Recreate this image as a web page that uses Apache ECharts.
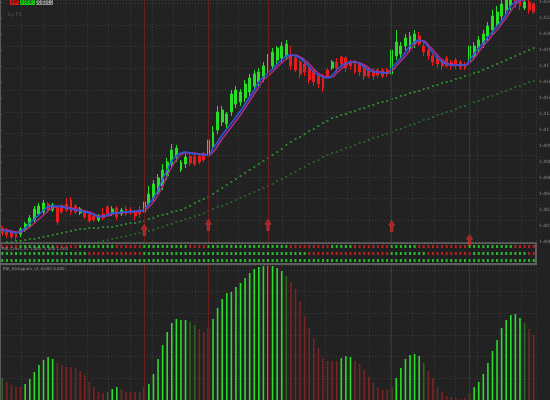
<!DOCTYPE html>
<html>
<head>
<meta charset="utf-8">
<script src="https://cdn.jsdelivr.net/npm/echarts@6/dist/echarts.min.js"></script>
<style>
html, body { margin: 0; padding: 0; background: #222; }
#chart { width: 550px; height: 400px; }
</style>
</head>
<body>
<div id="chart"></div>
<script>
// prices are points above 1.4000 (1 pt = 0.0001)
const opens = [14,12,10,9,8,12,16,22,28,30,38,32,34,36,38,42,36,29,30,28,26,22,28,35,28,34,28,33,32,30,32,30,38,44,50,56,66,78,86,72,78,86,85,86,88,86,96,112,120,118,130,138,140,144,150,156,160,164,170,176,182,184,186,186,184,180,178,174,172,166,165,172,174,180,185,184,180,180,178,176,172,170,172,172,172,168,186,188,196,194,198,206,196,192,186,184,182,184,180,182,180,178,180,186,194,198,206,212,218,226,232,236,246,244,234,240,238]
const closes = [9,7,5,5,13,18,24,33,36,39,32,37,20,30,32,30,30,33,25,21,22,26,24,28,33,25,32,28,29,26,28,40,48,58,64,72,80,92,94,80,85,79,78,80,82,102,110,130,132,128,148,152,150,158,164,168,170,176,184,190,194,196,198,176,172,168,170,162,160,158,154,166,180,174,178,174,176,170,170,166,166,166,167,166,168,192,200,196,204,206,208,198,190,186,180,178,176,176,176,176,175,174,196,196,202,208,216,226,230,238,244,246,238,236,240,232,230]
const lows = [6,4,3,2,5,10,14,20,26,27,29,30,17,28,30,27,28,27,23,19,20,20,22,26,26,22,26,26,27,22,24,28,36,40,48,52,62,74,80,70,74,76,76,78,80,84,92,108,116,114,126,134,136,140,146,152,156,160,168,172,178,180,182,172,170,164,166,158,156,154,150,164,172,170,176,170,172,168,166,162,164,162,164,164,165,166,182,184,192,190,194,196,186,182,176,174,172,174,172,173,172,172,176,182,190,194,200,208,214,222,228,232,234,232,232,228,228]
const highs = [16,14,12,11,15,20,27,36,39,42,40,39,36,38,44,45,38,35,32,30,28,28,34,37,36,36,34,36,35,32,36,44,56,62,68,78,84,98,97,82,88,88,87,88,90,106,116,136,136,130,152,156,153,162,168,172,174,180,188,194,196,200,202,196,186,182,180,176,174,168,168,174,182,184,186,186,182,182,180,178,174,174,174,174,174,212,212,200,208,210,212,210,200,194,188,186,184,186,182,184,182,180,200,200,206,212,220,232,236,244,250,252,250,248,244,242,240]

const maBlue = [12,11,10,9,11,14,19,23,27,32,35,36,36,35,34,33,32,31,30,29,27,25,26,27,29,29,30,30,30,31,31,33,38,44,52,63,72,81,86,89,90,89,88,88,87,87,94,100,107,113,119,125,131,138,145,152,160,165,169,173,178,182,186,187,186,184,180,175,170,167,165,164,167,172,176,179,180,180,178,175,172,170,170,169,169,174,179,184,190,196,200,202,200,195,189,184,180,178,177,177,177,177,182,188,194,199,205,210,216,221,228,236,240,242,243,244,244]
const maPink = [12,12,11,10,10,12,15,19,23,27,31,34,35,36,35,34,33,32,31,30,28,26,26,26,28,29,29,30,30,30,31,32,35,40,47,56,66,75,82,87,89,89,89,88,88,87,90,96,103,109,115,121,127,134,141,148,155,162,166,170,175,179,183,186,187,185,182,178,173,169,166,165,165,169,173,177,179,180,179,177,174,171,170,170,169,171,176,181,186,192,197,201,201,197,192,187,182,179,178,177,177,177,179,184,190,196,201,207,212,218,224,231,237,241,242,243,244]
const slowA = [null,0,0,1,1,2,3,3,4,5,6,7,8,9,10,11,12,13,13,14,14,14,15,15,15,16,17,18,19,19,20,21,23,24,26,27,28,30,31,32,34,36,39,41,43,45,48,51,54,57,60,63,66,69,72,75,78,81,84,87,90,93,97,100,103,105,108,111,113,116,119,121,124,125,127,128,130,131,133,134,136,137,139,140,141,143,144,146,147,149,150,151,153,154,156,157,159,160,161,163,164,166,167,169,170,172,174,176,178,180,182,184,186,188,190,192,194]
const slowB = [null,null,null,null,null,null,null,null,null,null,null,null,null,null,null,null,null,null,null,null,null,0,1,2,3,4,5,6,7,8,9,10,11,12,14,15,17,18,20,21,23,24,26,27,29,31,33,35,36,38,40,42,44,46,48,50,52,54,56,58,61,63,65,68,70,73,75,78,80,82,85,87,89,90,92,94,95,97,99,100,102,104,105,107,108,110,112,113,115,117,118,120,122,123,125,127,128,130,131,133,135,136,138,140,141,143,145,146,148,150,151,153,155,156,158,160,161]

// buy arrows: bar index and level
const arrowBars = [31, 45, 58, 85, 102]
const arrowLevels = [12, 17, 17, 16, 2]

// three-row signal strip, run lengths of red / green
const stripRuns = [
  [['R',4],['G',8],['R',5],['G',8],['R',6],['G',10],['R',4],['G',18],['R',9],['G',5],['R',8],['G',6],['R',11],['G',10],['R',5]],
  [['G',19],['R',12],['G',36],['R',18],['G',8],['R',10],['G',12],['R',2]],
  [['G',117]],
]

// histogram heights and colour codes (G rising, g fading, r falling, o turn)
const hist = [22,18,15,13,13,16,21,28,35,40,43,41,37,35,33,33,32,29,25,18,13,8,7,8,11,13,11,8,8,8,8,13,16,26,41,55,68,77,81,80,80,78,75,71,68,72,81,92,101,107,108,113,117,122,127,131,133,134,134,134,132,129,124,118,111,99,84,72,62,52,42,39,39,39,42,44,43,39,36,30,23,17,13,10,10,13,22,32,41,45,46,44,37,29,22,13,8,4,3,2,1,2,7,13,18,26,37,49,60,72,80,85,86,82,77,71,65]
const histRuns = [['g',1],['r',4],['G',7],['r',11],['g',1],['G',2],['r',5],['o',1],['G',9],['g',2],['r',2],['o',1],['G',16],['g',1],['r',11],['G',3],['r',8],['o',1],['G',6],['g',1],['r',9],['o',1],['G',11],['g',1],['r',2]]

const bars = hist.map((_, i) => String(i))
const HIST_COLORS = { G: '#2cdc2c', g: '#2f6424', r: '#7a2424', o: '#66661e' }
const DOT_COLORS = { G: '#2ee02e', R: '#e02222' }
const GRID_LINE = { show: true, lineStyle: { color: '#3a3a3a', type: [1, 2], width: 1 } }
const HIDDEN = { axisLine: { show: false }, axisTick: { show: false }, axisLabel: { show: false } }

function expand(runs) {
  const out = []
  for (const [code, n] of runs) for (let k = 0; k < n; k++) out.push(code)
  return out
}

const histColors = expand(histRuns)
const stripData = []
stripRuns.forEach((runs, row) => {
  expand(runs).forEach((code, i) => {
    stripData.push({ value: [i, 'r' + row], itemStyle: { color: DOT_COLORS[code] } })
  })
})

function signalLines() {
  return {
    symbol: 'none',
    silent: true,
    label: { show: false },
    lineStyle: { color: '#6a1e1e', width: 1, type: 'solid', opacity: 1 },
    data: arrowBars.map((i) => ({ xAxis: bars[i] })),
  }
}

const chart = echarts.init(document.getElementById('chart'))
chart.setOption({
  backgroundColor: '#222222',
  animation: false,
  grid: [
    { left: 0, width: 536, top: 0, height: 242, outerBoundsMode: 'none' },
    { left: 0, width: 536, top: 243, height: 21, outerBoundsMode: 'none', show: true, borderColor: '#5e5e5e', borderWidth: 2, backgroundColor: '#1f1f1f' },
    { left: 0, width: 536, top: 265, height: 135, outerBoundsMode: 'none' },
  ],
  xAxis: [
    { type: 'category', gridIndex: 0, data: bars, ...HIDDEN },
    { type: 'value', gridIndex: 0, min: 0, max: 536, interval: 21.7, ...HIDDEN, splitLine: GRID_LINE },
    { type: 'category', gridIndex: 1, data: bars, ...HIDDEN },
    { type: 'category', gridIndex: 2, data: bars, ...HIDDEN },
    { type: 'value', gridIndex: 2, min: 0, max: 536, interval: 21.7, ...HIDDEN, splitLine: GRID_LINE },
  ],
  yAxis: [
    {
      type: 'value', gridIndex: 0, position: 'right', min: 0, max: 242, interval: 16,
      axisLine: { show: true, lineStyle: { color: '#5a5a5a' } },
      axisTick: { show: true, length: 2, lineStyle: { color: '#5a5a5a' } },
      axisLabel: { margin: 3, fontSize: 4.5, color: '#8c8c8c', fontFamily: 'DejaVu Sans', formatter: (v) => (1.4 + v / 10000).toFixed(4) },
      splitLine: { show: false },
    },
    { type: 'value', gridIndex: 0, min: 0, max: 242, interval: 21.7, ...HIDDEN, splitLine: GRID_LINE },
    { type: 'category', gridIndex: 1, data: ['r0', 'r1', 'r2'], inverse: true, ...HIDDEN },
    {
      type: 'value', gridIndex: 2, position: 'right', min: 0, max: 135, interval: 21.7,
      axisLine: { show: true, lineStyle: { color: '#5a5a5a' } },
      axisTick: { show: false }, axisLabel: { show: false },
      splitLine: GRID_LINE,
    },
  ],
  graphic: [
    { type: 'rect', shape: { x: 10, y: -3, width: 9, height: 8 }, style: { fill: '#e01414' } },
    { type: 'text', x: 11, y: 0, style: { text: 'Sell', fill: '#3a0000', font: '4px DejaVu Sans' } },
    { type: 'rect', shape: { x: 20, y: -3, width: 15, height: 8 }, style: { fill: '#12d012' } },
    { type: 'text', x: 21, y: 0, style: { text: '0.000', fill: '#003a00', font: '4px DejaVu Sans' } },
    { type: 'rect', shape: { x: 36, y: -3, width: 17, height: 8 }, style: { fill: '#8c8c8c' } },
    { type: 'text', x: 37, y: 0, style: { text: '0.000', fill: '#444', font: '4px DejaVu Sans' } },
    { type: 'text', x: 8, y: 12, style: { text: 'by FX', fill: '#555', font: '5px DejaVu Sans' } },
    { type: 'text', x: 2, y: 247, z: 10, style: { text: 'RSI_Cross_v1 1.000 -1.000 1.000', fill: '#9a9a9a', font: '4px DejaVu Sans' } },
    { type: 'text', x: 3, y: 267, style: { text: 'RSI_Histogram_v1 0.000 0.000', fill: '#9a9a9a', font: '4px DejaVu Sans' } },
  ],
  series: [
    {
      name: 'Price',
      type: 'candlestick',
      xAxisIndex: 0,
      yAxisIndex: 0,
      data: opens.map((o, i) => [o, closes[i], lows[i], highs[i]]),
      barWidth: 2.4,
      itemStyle: { color: '#24e024', color0: '#e81c1c', borderColor: '#24e024', borderColor0: '#e81c1c', borderWidth: 1 },
      markLine: signalLines(),
      z: 2,
    },
    {
      name: 'Fast MA', type: 'line', xAxisIndex: 0, yAxisIndex: 0, data: maPink,
      smooth: true, showSymbol: false, lineStyle: { color: '#b02c84', width: 1.5 }, z: 3,
    },
    {
      name: 'Signal MA', type: 'line', xAxisIndex: 0, yAxisIndex: 0, data: maBlue,
      smooth: true, showSymbol: false, lineStyle: { color: '#2c58e0', width: 1.5 }, z: 4,
    },
    {
      name: 'Slow A', type: 'scatter', xAxisIndex: 0, yAxisIndex: 0,
      data: slowA.map((v, i) => [i, v]).filter((p) => p[1] !== null),
      symbol: 'rect', symbolSize: 2, itemStyle: { color: '#2f9a2f' }, z: 2,
    },
    {
      name: 'Slow B', type: 'scatter', xAxisIndex: 0, yAxisIndex: 0,
      data: slowB.map((v, i) => [i, v]).filter((p) => p[1] !== null),
      symbol: 'rect', symbolSize: 2, itemStyle: { color: '#2a6c2a' }, z: 2,
    },
    {
      name: 'Buy', type: 'scatter', xAxisIndex: 0, yAxisIndex: 0,
      data: arrowBars.map((i, k) => [i, arrowLevels[k]]),
      symbol: 'path://M5,0 L10,6 L7,6 L7,14 L3,14 L3,6 L0,6 Z', symbolSize: [6, 11],
      itemStyle: { color: '#c81e1e', borderColor: '#ff5050', borderWidth: 0.5 }, z: 5,
    },
    {
      name: 'Strip', type: 'scatter', xAxisIndex: 2, yAxisIndex: 2,
      data: stripData, symbol: 'rect', symbolSize: [2, 3], z: 3,
    },
    {
      name: 'Histogram', type: 'bar', xAxisIndex: 3, yAxisIndex: 3,
      data: hist.map((v, i) => ({ value: v, itemStyle: { color: HIST_COLORS[histColors[i]] } })),
      barWidth: 1.6,
      markLine: signalLines(),
    },
  ],
})
</script>
</body>
</html>
